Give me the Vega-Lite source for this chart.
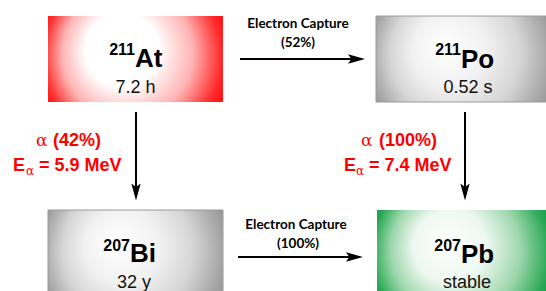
{
  "$schema": "https://vega.github.io/schema/vega-lite/v6.json",
  "width": 546,
  "height": 291,
  "padding": 0,
  "autosize": {"type": "none"},
  "background": "white",
  "config": {"view": {"stroke": null}},
  "data": {"values": [
    {"kind": "box", "nuclide": "At", "x": 48, "x2": 223, "y": 16, "y2": 102},
    {"kind": "box", "nuclide": "Po", "x": 376, "x2": 550, "y": 16, "y2": 102},
    {"kind": "box", "nuclide": "Bi", "x": 48, "x2": 223, "y": 210, "y2": 300},
    {"kind": "box", "nuclide": "Pb", "x": 377, "x2": 550, "y": 210, "y2": 300},
    {"kind": "mass", "text": "211", "x": 135, "y": 55},
    {"kind": "symbol", "text": "At", "x": 135, "y": 67},
    {"kind": "halflife", "text": "7.2 h", "x": 135.5, "y": 93},
    {"kind": "mass", "text": "211", "x": 461, "y": 55},
    {"kind": "symbol", "text": "Po", "x": 461, "y": 68},
    {"kind": "halflife", "text": "0.52 s", "x": 468, "y": 93},
    {"kind": "mass", "text": "207", "x": 130, "y": 251},
    {"kind": "symbol", "text": "Bi", "x": 130, "y": 262},
    {"kind": "halflife", "text": "32 y", "x": 134, "y": 288},
    {"kind": "mass", "text": "207", "x": 461, "y": 251},
    {"kind": "symbol", "text": "Pb", "x": 461, "y": 263},
    {"kind": "halflife", "text": "stable", "x": 467, "y": 288},
    {"kind": "ec", "text": "Electron Capture", "x": 298, "y": 28},
    {"kind": "ec", "text": "(52%)", "x": 298, "y": 47},
    {"kind": "ec", "text": "Electron Capture", "x": 296, "y": 229},
    {"kind": "ec", "text": "(100%)", "x": 298, "y": 248},
    {"kind": "alpha", "text": "α", "x": 36, "y": 146},
    {"kind": "pct", "text": "(42%)", "x": 53, "y": 146},
    {"kind": "E", "text": "E", "x": 13, "y": 171},
    {"kind": "sub", "text": "α", "x": 26, "y": 175},
    {"kind": "energy", "text": "= 5.9 MeV", "x": 39, "y": 171},
    {"kind": "alpha", "text": "α", "x": 361, "y": 146},
    {"kind": "pct", "text": "(100%)", "x": 379, "y": 146},
    {"kind": "E", "text": "E", "x": 344, "y": 171},
    {"kind": "sub", "text": "α", "x": 356, "y": 175},
    {"kind": "energy", "text": "= 7.4 MeV", "x": 369, "y": 171},
    {"kind": "hline", "x": 240, "x2": 352, "y": 59},
    {"kind": "hline", "x": 238, "x2": 350, "y": 257},
    {"kind": "vline", "x": 136, "y": 112, "y2": 188},
    {"kind": "vline", "x": 465, "y": 112, "y2": 188},
    {"kind": "headR", "x": 356.5, "y": 59},
    {"kind": "headR", "x": 354.5, "y": 257},
    {"kind": "headD", "x": 136, "y": 192},
    {"kind": "headD", "x": 465, "y": 192}
  ]},
  "encoding": {
    "x": {"field": "x", "type": "quantitative", "scale": {"domain": [0, 546], "nice": false, "zero": false}, "axis": null},
    "y": {"field": "y", "type": "quantitative", "scale": {"domain": [0, 291], "nice": false, "zero": false, "reverse": true}, "axis": null}
  },
  "layer": [
    {
      "transform": [{"filter": "datum.kind == 'box' && datum.nuclide == 'At'"}],
      "mark": {"type": "rect", "clip": true, "fill": {"gradient": "radial", "x1": 0.38, "y1": 0.42, "r1": 0, "x2": 0.5, "y2": 0.5, "r2": 0.6,
        "stops": [{"offset": 0, "color": "#ffffff"}, {"offset": 0.35, "color": "#ffffff"}, {"offset": 0.62, "color": "#ffb4b4"}, {"offset": 0.85, "color": "#ff2a2a"}, {"offset": 1, "color": "#ff0000"}]}},
      "encoding": {"x2": {"field": "x2"}, "y2": {"field": "y2"}}
    },
    {
      "transform": [{"filter": "datum.kind == 'box' && (datum.nuclide == 'Po' || datum.nuclide == 'Bi')"}],
      "mark": {"type": "rect", "clip": true, "stroke": "#9a9a9a", "strokeWidth": 1, "fill": {"gradient": "radial", "x1": 0.38, "y1": 0.42, "r1": 0, "x2": 0.5, "y2": 0.5, "r2": 0.6,
        "stops": [{"offset": 0, "color": "#ffffff"}, {"offset": 0.35, "color": "#f2f2f2"}, {"offset": 0.62, "color": "#d6d6d6"}, {"offset": 0.85, "color": "#a6a6a6"}, {"offset": 1, "color": "#8a8a8a"}]}},
      "encoding": {"x2": {"field": "x2"}, "y2": {"field": "y2"}}
    },
    {
      "transform": [{"filter": "datum.kind == 'box' && datum.nuclide == 'Pb'"}],
      "mark": {"type": "rect", "clip": true, "fill": {"gradient": "radial", "x1": 0.38, "y1": 0.42, "r1": 0, "x2": 0.5, "y2": 0.5, "r2": 0.6,
        "stops": [{"offset": 0, "color": "#ffffff"}, {"offset": 0.35, "color": "#eef8f1"}, {"offset": 0.62, "color": "#9fd8ae"}, {"offset": 0.85, "color": "#2aa855"}, {"offset": 1, "color": "#079a3a"}]}},
      "encoding": {"x2": {"field": "x2"}, "y2": {"field": "y2"}}
    },
    {
      "transform": [{"filter": "datum.kind == 'mass'"}],
      "mark": {"type": "text", "align": "right", "baseline": "alphabetic", "font": "Liberation Sans", "fontWeight": "bold", "fontSize": 16, "color": "black"},
      "encoding": {"text": {"field": "text"}}
    },
    {
      "transform": [{"filter": "datum.kind == 'symbol'"}],
      "mark": {"type": "text", "align": "left", "baseline": "alphabetic", "font": "Liberation Sans", "fontWeight": "bold", "fontSize": 26, "color": "black"},
      "encoding": {"text": {"field": "text"}}
    },
    {
      "transform": [{"filter": "datum.kind == 'halflife'"}],
      "mark": {"type": "text", "align": "center", "baseline": "alphabetic", "font": "Liberation Sans", "fontSize": 18, "color": "#111111"},
      "encoding": {"text": {"field": "text"}}
    },
    {
      "transform": [{"filter": "datum.kind == 'ec'"}],
      "mark": {"type": "text", "align": "center", "baseline": "alphabetic", "font": "Lato", "fontWeight": "bold", "fontSize": 13.5, "color": "black"},
      "encoding": {"text": {"field": "text"}}
    },
    {
      "transform": [{"filter": "datum.kind == 'alpha'"}],
      "mark": {"type": "text", "align": "left", "baseline": "alphabetic", "font": "DejaVu Serif", "fontSize": 17, "color": "#ff0000"},
      "encoding": {"text": {"field": "text"}}
    },
    {
      "transform": [{"filter": "datum.kind == 'pct' || datum.kind == 'E' || datum.kind == 'energy'"}],
      "mark": {"type": "text", "align": "left", "baseline": "alphabetic", "font": "Liberation Sans", "fontWeight": "bold", "fontSize": 18, "color": "#ff0000"},
      "encoding": {"text": {"field": "text"}}
    },
    {
      "transform": [{"filter": "datum.kind == 'sub'"}],
      "mark": {"type": "text", "align": "left", "baseline": "alphabetic", "font": "DejaVu Serif", "fontSize": 12, "color": "#ff0000"},
      "encoding": {"text": {"field": "text"}}
    },
    {
      "transform": [{"filter": "datum.kind == 'hline'"}],
      "mark": {"type": "rule", "color": "black", "strokeWidth": 2},
      "encoding": {"x2": {"field": "x2"}}
    },
    {
      "transform": [{"filter": "datum.kind == 'vline'"}],
      "mark": {"type": "rule", "color": "black", "strokeWidth": 2},
      "encoding": {"y2": {"field": "y2"}}
    },
    {
      "transform": [{"filter": "datum.kind == 'headR'"}],
      "mark": {"type": "point", "filled": true, "color": "black", "opacity": 1, "size": 289, "shape": "M-1,-0.55L1,0L-1,0.55L-0.6,0Z"},
      "encoding": {}
    },
    {
      "transform": [{"filter": "datum.kind == 'headD'"}],
      "mark": {"type": "point", "filled": true, "color": "black", "opacity": 1, "size": 289, "shape": "M-0.55,-1L0,1L0.55,-1L0,-0.6Z"},
      "encoding": {}
    }
  ]
}
